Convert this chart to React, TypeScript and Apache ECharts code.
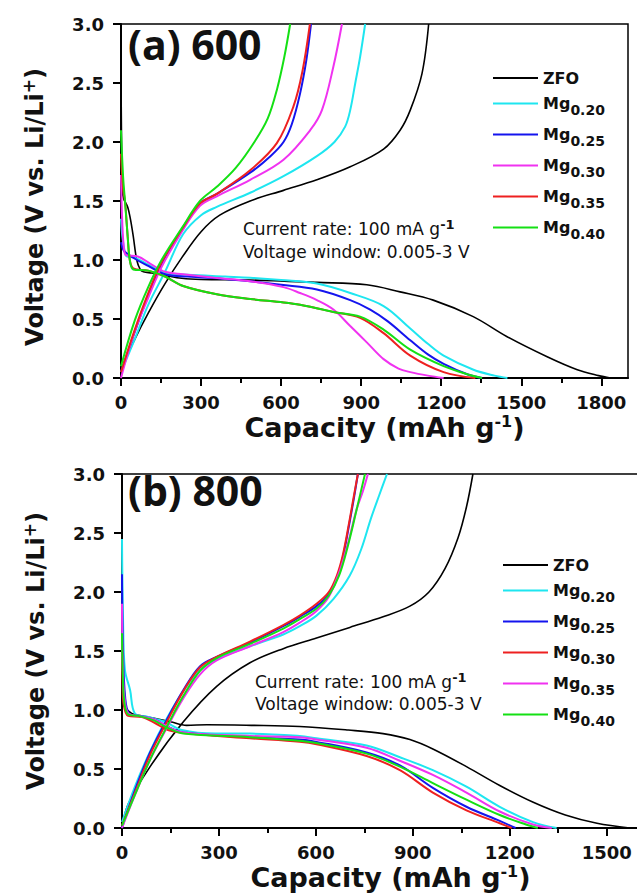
import React, { useEffect, useRef } from "react";
import * as echarts from "echarts";

// ---------- data ----------
const names = ["ZFO", "Mg0.20", "Mg0.25", "Mg0.30", "Mg0.35", "Mg0.40"];

const xMajorA = [0, 300, 600, 900, 1200, 1500, 1800];
const xMinorA = [150, 450, 750, 1050, 1350, 1650];
const xMajorB = [0, 300, 600, 900, 1200, 1500];
const xMinorB = [150, 450, 750, 1050, 1350];

const colorsA = ["#000000", "#1ee6f0", "#1414ee", "#f032f0", "#ee2020", "#14e014"];
const colorsB = ["#000000", "#1ee6f0", "#1414ee", "#ee2020", "#f032f0", "#14e014"];

// (a) 600 — discharge
const aDisZFO = [[0,2.55],[2,2.0],[4,1.6],[10,1.52],[25,1.45],[35,1.35],[46,1.2],[59,1.0],[72,0.92],[84,0.9],[115,0.89],[165,0.87],[228,0.845],[300,0.835],[484,0.83],[734,0.81],[921,0.79],[1046,0.73],[1170,0.66],[1320,0.52],[1447,0.35],[1597,0.18],[1710,0.07],[1790,0.02],[1834,0]];
const aDis20 = [[0,1.35],[5,1.2],[15,1.06],[21,1.03],[52,1.02],[102,0.96],[165,0.89],[250,0.875],[390,0.86],[484,0.85],[600,0.83],[734,0.8],[859,0.72],[984,0.61],[1084,0.42],[1150,0.29],[1209,0.19],[1321,0.07],[1400,0.02],[1448,0]];
const aDis25 = [[0,1.15],[10,1.08],[26,1.05],[60,1.0],[102,0.95],[165,0.88],[250,0.86],[390,0.84],[484,0.82],[600,0.79],[734,0.75],[859,0.66],[934,0.58],[1000,0.48],[1084,0.32],[1150,0.2],[1209,0.12],[1300,0.03],[1353,0]];
const aDis30 = [[0,1.72],[5,1.3],[12,1.08],[20,1.04],[63,1.03],[109,0.97],[165,0.9],[233,0.88],[350,0.85],[484,0.82],[609,0.77],[671,0.72],[734,0.66],[796,0.58],[859,0.44],[922,0.3],[984,0.16],[1040,0.08],[1084,0.05],[1150,0.02],[1209,0]];
const aDis35 = [[0,1.9],[8,1.6],[15,1.5],[25,1.2],[33,1.0],[46,0.93],[102,0.91],[165,0.86],[233,0.78],[359,0.71],[484,0.67],[609,0.64],[671,0.62],[796,0.56],[896,0.51],[984,0.38],[1084,0.19],[1209,0.05],[1328,0]];
const aDis40 = [[0,2.1],[8,1.7],[15,1.5],[25,1.2],[33,1.0],[46,0.92],[102,0.91],[165,0.86],[233,0.78],[359,0.71],[484,0.67],[609,0.64],[671,0.62],[796,0.56],[896,0.52],[984,0.41],[1084,0.24],[1209,0.1],[1300,0.03],[1353,0]];
// (a) 600 — charge
const aChgZFO = [[0,0],[10,0.12],[52,0.33],[102,0.55],[165,0.8],[228,1.02],[300,1.24],[370,1.38],[484,1.5],[609,1.59],[734,1.68],[859,1.79],[984,1.94],[1046,2.1],[1084,2.27],[1128,2.58],[1153,3.0]];
const aChg20 = [[0,0.05],[50,0.32],[102,0.62],[165,0.9],[233,1.22],[300,1.38],[359,1.45],[484,1.57],[609,1.71],[734,1.88],[800,2.0],[840,2.13],[859,2.27],[878,2.5],[896,2.72],[915,3.0]];
const aChg25 = [[0,0.05],[50,0.38],[102,0.7],[155,0.98],[228,1.26],[296,1.48],[359,1.56],[484,1.74],[560,1.88],[609,2.0],[640,2.15],[671,2.41],[695,2.7],[712,3.0]];
const aChg30 = [[0,0],[52,0.4],[102,0.68],[152,0.94],[228,1.24],[296,1.46],[359,1.54],[484,1.68],[609,1.85],[709,2.1],[753,2.27],[796,2.64],[828,3.0]];
const aChg35 = [[0,0.05],[50,0.4],[102,0.72],[152,0.98],[228,1.26],[296,1.48],[359,1.56],[484,1.76],[584,1.99],[646,2.3],[680,2.6],[708,3.0]];
const aChg40 = [[0,0.1],[52,0.49],[102,0.77],[152,1.0],[228,1.27],[296,1.5],[359,1.62],[430,1.78],[500,2.0],[550,2.2],[585,2.45],[612,2.72],[634,3.0]];

// (b) 800 — discharge
const bDisZFO = [[0,1.65],[2,1.3],[5,1.12],[12,1.02],[30,0.97],[60,0.95],[100,0.93],[150,0.9],[200,0.87],[263,0.875],[400,0.87],[550,0.86],[700,0.83],[808,0.8],[891,0.75],[962,0.67],[1066,0.52],[1169,0.36],[1271,0.22],[1372,0.11],[1470,0.04],[1571,0]];
const bDis20 = [[0,2.45],[3,1.8],[9,1.34],[25,1.17],[40,0.97],[81,0.94],[133,0.9],[185,0.83],[288,0.8],[396,0.8],[550,0.78],[602,0.76],[757,0.7],[860,0.6],[962,0.49],[1066,0.35],[1169,0.18],[1272,0.05],[1345,0]];
const bDis25 = [[0,2.15],[3,1.5],[10,1.1],[22,0.97],[50,0.95],[100,0.92],[140,0.86],[190,0.81],[396,0.77],[550,0.75],[602,0.73],[757,0.64],[860,0.53],[962,0.34],[1066,0.18],[1169,0.06],[1218,0]];
const bDis30 = [[0,1.6],[2,1.2],[5,1.05],[19,0.95],[61,0.94],[102,0.89],[142,0.83],[204,0.8],[396,0.76],[550,0.73],[602,0.71],[757,0.61],[860,0.49],[962,0.3],[1066,0.15],[1169,0.04],[1206,0]];
const bDis35 = [[0,1.9],[3,1.3],[10,1.05],[20,0.97],[50,0.95],[100,0.92],[140,0.86],[190,0.81],[396,0.78],[550,0.77],[602,0.75],[757,0.68],[860,0.57],[962,0.45],[1066,0.3],[1169,0.14],[1272,0.03],[1330,0]];
const bDis40 = [[0,1.65],[3,1.25],[8,1.05],[20,0.96],[50,0.95],[100,0.91],[140,0.85],[190,0.8],[396,0.77],[550,0.74],[602,0.72],[757,0.63],[860,0.52],[962,0.38],[1066,0.24],[1169,0.11],[1250,0.03],[1287,0]];
// (b) 800 — charge
const bChgZFO = [[0,0],[19,0.2],[87,0.52],[190,0.9],[293,1.2],[396,1.4],[499,1.52],[602,1.61],[705,1.7],[808,1.79],[891,1.88],[950,2.0],[1000,2.2],[1040,2.46],[1066,2.72],[1086,3.0]];
const bChg20 = [[0,0.05],[40,0.35],[87,0.65],[139,0.93],[190,1.16],[241,1.34],[293,1.43],[396,1.54],[499,1.64],[550,1.71],[602,1.8],[654,1.94],[705,2.14],[740,2.36],[770,2.62],[796,2.82],[820,3.0]];
const bChg25 = [[0,0],[40,0.32],[87,0.64],[139,0.92],[190,1.17],[241,1.37],[293,1.45],[396,1.57],[499,1.71],[550,1.79],[602,1.88],[640,1.98],[665,2.12],[684,2.3],[705,2.6],[718,2.8],[730,3.0]];
const bChg30 = [[0,0.02],[40,0.3],[87,0.62],[139,0.9],[190,1.16],[241,1.36],[293,1.45],[396,1.58],[499,1.72],[550,1.8],[602,1.9],[640,2.0],[665,2.14],[684,2.32],[705,2.62],[718,2.82],[730,3.0]];
const bChg35 = [[0,0],[40,0.28],[87,0.58],[139,0.85],[190,1.1],[241,1.3],[293,1.42],[396,1.54],[499,1.66],[550,1.74],[602,1.84],[640,1.96],[674,2.18],[700,2.42],[726,2.7],[745,2.85],[761,3.0]];
const bChg40 = [[0,0.02],[40,0.28],[87,0.58],[139,0.86],[190,1.12],[241,1.33],[293,1.44],[396,1.56],[499,1.69],[550,1.77],[602,1.86],[640,1.97],[672,2.14],[700,2.4],[728,2.72],[752,3.0]];

const disA = [aDisZFO, aDis20, aDis25, aDis30, aDis35, aDis40];
const chgA = [aChgZFO, aChg20, aChg25, aChg30, aChg35, aChg40];
const disB = [bDisZFO, bDis20, bDis25, bDis30, bDis35, bDis40];
const chgB = [bChgZFO, bChg20, bChg25, bChg30, bChg35, bChg40];

// ---------- styling ----------
const FONT = '"DejaVu Sans", sans-serif';

type Spec = {
  label: string;
  xMax: number;
  left: number;
  top: number;
  width: number;
  height: number;
  major: number[];
  minor: number[];
  colors: string[];
  dis: number[][][];
  chg: number[][][];
  legendLeft: number;
  legendTop: number;
  labelY: number;
  annX: number;
  annY1: number;
  annY2: number;
  yNameShift: number;
};

function buildOption(s: Spec): any {
  const series: any[] = [];
  names.forEach((n, i) => {
    const lw = i === 0 ? 1.6 : 2;
    [s.dis[i], s.chg[i]].forEach((d) => {
      series.push({
        name: n,
        type: "line",
        xAxisIndex: 0,
        yAxisIndex: 0,
        data: d,
        symbol: "none",
        showSymbol: false,
        smooth: 0.35,
        lineStyle: { color: s.colors[i], width: lw },
        itemStyle: { color: s.colors[i] },
        z: i === 0 ? 2 : 3,
      });
    });
  });
  const tickFont = { fontFamily: FONT, fontWeight: "bold", fontSize: 18, color: "#111" };
  return {
    animation: false,
    backgroundColor: "#ffffff",
    grid: {
      left: s.left,
      top: s.top,
      width: s.width,
      height: s.height,
      show: true,
      borderColor: "#000",
      borderWidth: 1.5,
      backgroundColor: "transparent",
      containLabel: false,
      outerBoundsMode: "none",
    },
    legend: {
      orient: "vertical",
      left: s.legendLeft,
      top: s.legendTop,
      padding: 0,
      itemGap: 4,
      itemWidth: 45,
      itemHeight: 2,
      icon: "rect",
      selectedMode: false,
      data: names.map((n, i) => ({ name: n, icon: "rect", itemStyle: { color: s.colors[i] } })),
      formatter: (n: string) => (n === "ZFO" ? "ZFO" : "{base|Mg}{sub|" + n.slice(2) + "}"),
      textStyle: {
        fontFamily: FONT,
        fontWeight: "bold",
        fontSize: 16,
        color: "#111",
        lineHeight: 9,
        rich: {
          base: { fontFamily: FONT, fontWeight: "bold", fontSize: 16, color: "#111", lineHeight: 18 },
          sub: { fontFamily: FONT, fontWeight: "bold", fontSize: 14, color: "#111", lineHeight: 27, padding: [13, 0, 0, 0] },
        },
      },
    },
    xAxis: [
      {
        type: "value",
        min: 0,
        max: s.xMax,
        interval: 300,
        position: "bottom",
        name: "Capacity (mAh g{sup|-1})",
        nameLocation: "middle",
        nameGap: 35,
        nameMoveOverlap: false,
        nameTextStyle: {
          fontFamily: FONT,
          fontWeight: "bold",
          fontSize: 27,
          color: "#111",
          padding: [0, 0, 0, 20],
          rich: {
            sup: { fontFamily: FONT, fontWeight: "bold", fontSize: 16, color: "#111", padding: [0, 0, 13, 0] },
          },
        },
        axisLine: { show: true, onZero: false, lineStyle: { color: "#000", width: 2 } },
        axisTick: { show: true, inside: false, length: 8, customValues: s.major, lineStyle: { color: "#000", width: 2 } },
        axisLabel: { show: true, margin: 15, customValues: s.major, formatter: (v: number) => String(Math.round(v)), ...tickFont },
        splitLine: { show: false },
      },
      {
        type: "value",
        min: 0,
        max: s.xMax,
        position: "bottom",
        axisLine: { show: false },
        axisTick: { show: true, inside: false, length: 5, customValues: s.minor, lineStyle: { color: "#000", width: 2 } },
        axisLabel: { show: false },
        splitLine: { show: false },
      },
    ],
    yAxis: {
      type: "value",
      min: 0,
      max: 3,
      interval: 0.5,
      name: "Voltage (V vs. Li/Li{sup|+})",
      nameLocation: "middle",
      nameRotate: 90,
      nameGap: 72,
      nameMoveOverlap: false,
      nameTextStyle: {
        fontFamily: FONT,
        fontWeight: "bold",
        fontSize: 24,
        color: "#111",
        padding: [0, s.yNameShift, 0, 0],
        rich: {
          sup: { fontFamily: FONT, fontWeight: "bold", fontSize: 17, color: "#111", padding: [0, 0, 12, 0] },
        },
      },
      axisLine: { show: true, onZero: false, lineStyle: { color: "#000", width: 2 } },
      axisTick: { show: true, inside: false, length: 8, lineStyle: { color: "#000", width: 2 } },
      axisLabel: { margin: 17, formatter: (v: number) => v.toFixed(1), ...tickFont },
      splitLine: { show: false },
    },
    graphic: [
      {
        type: "text",
        left: 128,
        top: s.labelY,
        style: {
          text: s.label,
          fontFamily: '"Open Sans", sans-serif',
          fontWeight: "bold",
          fontSize: 41,
          fill: "#111",
        },
      },
      {
        type: "text",
        x: s.annX,
        y: s.annY1,
        style: {
          text: "Current rate: 100 mA g{sup|-1}",
          fontFamily: FONT,
          fontSize: 17,
          fill: "#111",
          verticalAlign: "middle",
          rich: { sup: { fontFamily: FONT, fontSize: 13, fontWeight: "bold", fill: "#111", padding: [0, 0, 10, 0] } },
        },
      },
      {
        type: "text",
        x: s.annX,
        y: s.annY2,
        style: {
          text: "Voltage window: 0.005-3 V",
          fontFamily: FONT,
          fontSize: 17,
          fill: "#111",
          verticalAlign: "middle",
        },
      },
    ],
    series,
  };
}

const specA: Spec = {
  label: "(a) 600",
  xMax: 1900,
  left: 121,
  top: 24,
  width: 507,
  height: 354,
  major: xMajorA,
  minor: xMinorA,
  colors: colorsA,
  dis: disA,
  chg: chgA,
  legendLeft: 493,
  legendTop: 70,
  labelY: 23,
  annX: 243,
  annY1: 229,
  annY2: 252,
  yNameShift: 12,
};

const specB: Spec = {
  label: "(b) 800",
  xMax: 1600,
  left: 122,
  top: 26,
  width: 517,
  height: 354,
  major: xMajorB,
  minor: xMinorB,
  colors: colorsB,
  dis: disB,
  chg: chgB,
  legendLeft: 503,
  legendTop: 109,
  labelY: 21,
  annX: 255,
  annY1: 234,
  annY2: 256,
  yNameShift: 0,
};

function Panel({ spec, top }: { spec: Spec; top: number }) {
  const ref = useRef<HTMLDivElement>(null);
  useEffect(() => {
    if (!ref.current) return;
    const chart = echarts.init(ref.current, null, { renderer: "svg" });
    chart.setOption(buildOption(spec));
    return () => chart.dispose();
  }, [spec]);
  return <div ref={ref} style={{ position: "absolute", left: 0, top, width: 637, height: 448 }} />;
}

export default function App() {
  return (
    <div style={{ position: "absolute", left: 0, top: 0, width: 637, height: 896, background: "#fff", overflow: "hidden" }}>
      <Panel spec={specA} top={0} />
      <Panel spec={specB} top={448} />
    </div>
  );
}
